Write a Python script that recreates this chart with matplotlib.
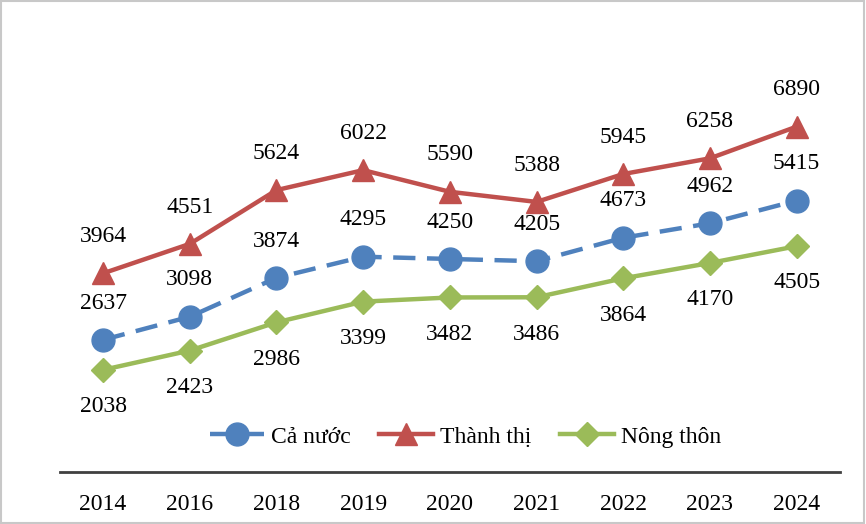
import matplotlib
matplotlib.use("Agg")
from matplotlib import pyplot as plt

years = ["2014", "2016", "2018", "2019", "2020", "2021", "2022", "2023", "2024"]
ca_nuoc = [2637, 3098, 3874, 4295, 4250, 4205, 4673, 4962, 5415]
thanh_thi = [3964, 4551, 5624, 6022, 5590, 5388, 5945, 6258, 6890]
nong_thon = [2038, 2423, 2986, 3399, 3482, 3486, 3864, 4170, 4505]

plt.rcParams["font.family"] = ["Liberation Serif", "DejaVu Serif"]

fig = plt.figure(figsize=(8.66, 5.24), dpi=100)
ax = fig.add_axes([0.069, 0.0992, 0.901, 0.861])

x = list(range(len(years)))
series = [
    ("Cả nước", ca_nuoc, "#4F81BD", (0, (5, 2.6)), "o", 16.5, 1),
    ("Thành thị", thanh_thi, "#C0504D", "-", "^", 16, 1),
    ("Nông thôn", nong_thon, "#9BBB59", "-", "D", 12, -1),
]

for name, vals, color, ls, marker, ms, side in series:
    ax.plot(x, vals, color=color, linestyle=ls, linewidth=3.2, marker=marker,
            markersize=ms, label=name)
    for xi, v in zip(x, vals):
        ax.annotate(str(v), (xi, v), xytext=(0, 26.5 * side), textcoords="offset points",
                    ha="center", va="center", fontsize=17, color="black")

ax.set_xlim(-0.5, len(years) - 0.5)
ax.set_ylim(0, 9000)
ax.set_xticks(x)
ax.set_xticklabels(years, fontsize=17)
ax.tick_params(axis="x", length=0, pad=16)
ax.set_yticks([])
for s in ["top", "left", "right"]:
    ax.spines[s].set_visible(False)
ax.spines["bottom"].set_color("#404040")
ax.spines["bottom"].set_linewidth(2)

ax.legend(loc="center", bbox_to_anchor=(0.52, 0.078), ncol=3, frameon=False,
          fontsize=17, handlelength=2.3, columnspacing=1.2, handletextpad=0.3)

fig.patches.append(plt.Rectangle((0.001, 0.001), 0.997, 0.997, transform=fig.transFigure,
                                 fill=False, edgecolor="#C8C8C8", linewidth=1.5))

fig.savefig("out.png", dpi=100, facecolor="white")
